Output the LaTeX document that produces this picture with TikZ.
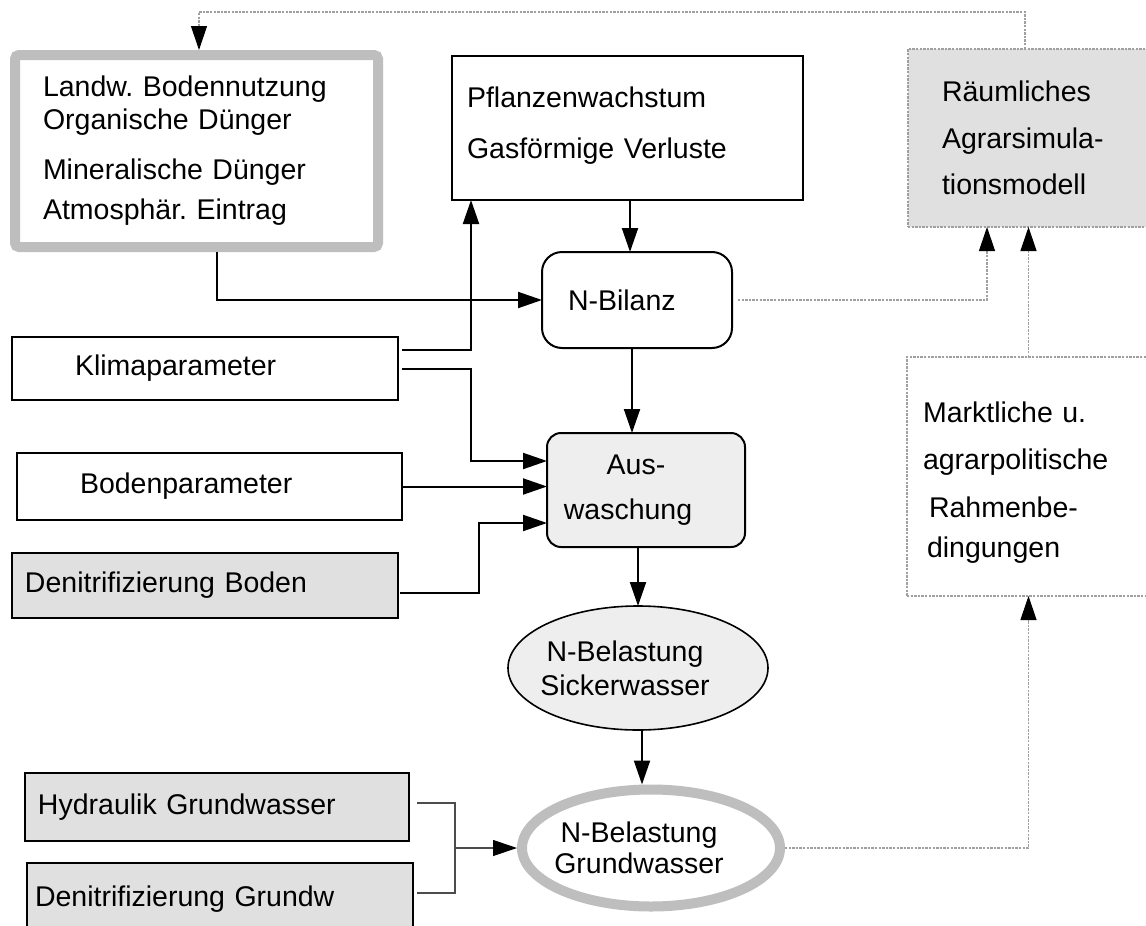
\documentclass[tikz,border=0pt]{standalone}
\usepackage{fontspec}
\setmainfont{Liberation Sans}
\frenchspacing
\usetikzlibrary{arrows.meta,shapes.geometric}
\definecolor{boxgray}{HTML}{E0E0E0}
\definecolor{lightfill}{HTML}{EEEEEE}
\definecolor{thickgray}{HTML}{BEBEBE}
\definecolor{dotgray}{HTML}{A0A0A0}
\newcommand{\leftby}[2]{\makebox[0pt][c]{#2\hspace*{#1}}}
\tikzset{
  every node/.style={font=\fontsize{14.25pt}{16.5pt}\selectfont, inner sep=0pt, outer sep=0pt},
  blackbox/.style={draw=black, line width=1pt, rectangle},
  graybox/.style={blackbox, fill=boxgray},
  dotbox/.style={draw=dotgray, line width=0.6pt, dash pattern=on 1.2pt off 0.6pt, rectangle},
  thickbox/.style={draw=thickgray, line width=5pt, rectangle, rounded corners=2pt},
  conn/.style={draw=black, line width=1pt},
  arr/.style={-{Triangle[length=12pt,width=8pt,color=black]}},
  dotline/.style={draw=dotgray, line width=0.6pt, dash pattern=on 1.2pt off 0.6pt},
  bracketline/.style={draw=black!70, line width=0.6pt}
}
\begin{document}
\begin{tikzpicture}[x=0.5pt,y=-0.5pt]
\useasboundingbox (0,0) rectangle (1146,926);
\fill[white] (0,0) rectangle (1146,926);

% nodes
\node[thickbox, minimum width=181.5pt, minimum height=96pt, text width=153.5pt, align=left] (tl) at (196.5,151)
  {Landw. Bodennutzung\\Organische Dünger\\[8.5pt]Mineralische Dünger\\[3.5pt]Atmosphär. Eintrag};
\node[blackbox, minimum width=175.5pt, minimum height=72pt, text width=160.5pt, align=left] (pf) at (627.5,128)
  {Pflanzenwachstum\\[9pt]Gasförmige Verluste\\[-11.5pt]\mbox{}};
\node[dotbox, fill=boxgray, minimum width=121pt, minimum height=89pt, text width=87pt, align=left] (ra) at (1029,138)
  {Räumliches\\[6.75pt]Agrarsimula-\\[6.75pt]tionsmodell};
\node[blackbox, rounded corners=10pt, minimum width=95pt, minimum height=48pt, text width=69pt, align=left] (nb) at (637,300)
  {N-Bilanz};
\node[blackbox, minimum width=193pt, minimum height=31.5pt, text width=130pt, align=left] (kl) at (205,368.5)
  {Klimaparameter};
\node[blackbox, minimum width=192.5pt, minimum height=33.5pt, text width=129.5pt, align=left] (bo) at (209.5,486.5)
  {Bodenparameter};
\node[graybox, minimum width=193pt, minimum height=32.5pt, text width=180pt, align=left] (db) at (205,585.5)
  {Denitrifizierung Boden};
\node[blackbox, fill=lightfill, rounded corners=7pt, minimum width=99pt, minimum height=57pt, align=center] (au) at (646,490)
  {\leftby{10pt}{Aus-}\\[6pt]\leftby{18pt}{waschung}};
\node[ellipse, draw=black, line width=0.8pt, fill=lightfill, minimum width=130pt, minimum height=62pt, align=center] (sw) at (638,668)
  {\leftby{13pt}{N-Belastung}\\[0.5pt]\leftby{13pt}{Sickerwasser}};
\node[ellipse, draw=thickgray, line width=5pt, minimum width=129pt, minimum height=58.5pt, align=center] (gw) at (651,848)
  {\leftby{12pt}{N-Belastung}\\[-1pt]\leftby{12pt}{Grundwasser}};
\node[graybox, minimum width=192pt, minimum height=34pt, text width=179pt, align=left] (hy) at (217,807)
  {Hydraulik Grundwasser};
\node[graybox, minimum width=193pt, minimum height=36pt, text width=185pt, align=left] (dg) at (220,899)
  {Denitrifizierung Grundw};
\node[dotbox, minimum width=121.5pt, minimum height=119.5pt, text width=105.5pt, align=left] (mk) at (1028.5,476.5)
  {\mbox{}\\Marktliche u.\\[7pt]agrarpolitische\\[7.5pt]\hspace*{3pt}Rahmenbe-\\[3.5pt]\hspace*{2pt}dingungen};

% feedback loop on top
\draw[dotline, arr] ([xshift=-2pt]ra.north) -- ++(0,-37) -| ([xshift=1.25pt,yshift=2.5pt]tl.north);

% black connectors
\draw[conn, arr] ([xshift=10.25pt,yshift=-2.5pt]tl.south) |- (nb.west);
\draw[conn, arr] ([xshift=1.25pt]pf.south) -- ([xshift=1.25pt]pf.south |- nb.north);
\draw[conn, arr] ([xshift=2pt,yshift=9.25pt]kl.east) -| ([xshift=-78.25pt]pf.south);
\draw[conn, arr] ([xshift=2pt]kl.east) -- ++(69,0) |- ([yshift=14.5pt]au.west);
\draw[conn, arr] ([xshift=0pt]bo.east) -- (bo.east -| au.west);
\draw[conn, arr] ([xshift=1pt,yshift=-3.75pt]db.east) -- ++(79,0) |- ([yshift=-16.5pt]au.west);
\draw[conn, arr] ([xshift=-2.5pt]nb.south) -- ([xshift=-2.5pt]nb.south |- au.north);
\draw[conn, arr] ([xshift=-4pt]au.south) -- (sw.north);
\draw[conn, arr] ([xshift=2pt]sw.south) -- ([xshift=2pt,yshift=2.5pt]sw.south |- gw.north);

% bracket of groundwater inputs
\draw[bracketline] ([xshift=4pt,yshift=2pt]hy.east) -- ++(38,0) coordinate (b1) |- ([xshift=2pt,yshift=3pt]dg.east);
\draw[bracketline, arr] (b1 |- gw.west) -- ([xshift=-2.5pt]gw.west);

% dotted connectors to the right
\draw[dotline, arr] ([xshift=3pt]nb.east) -| ([xshift=-21pt]ra.south);
\draw[dotline, arr] (mk.north) -- (mk.north |- ra.south);
\draw[dotline, arr] ([xshift=2.5pt]gw.east) -| (mk.south);
\end{tikzpicture}
\end{document}
